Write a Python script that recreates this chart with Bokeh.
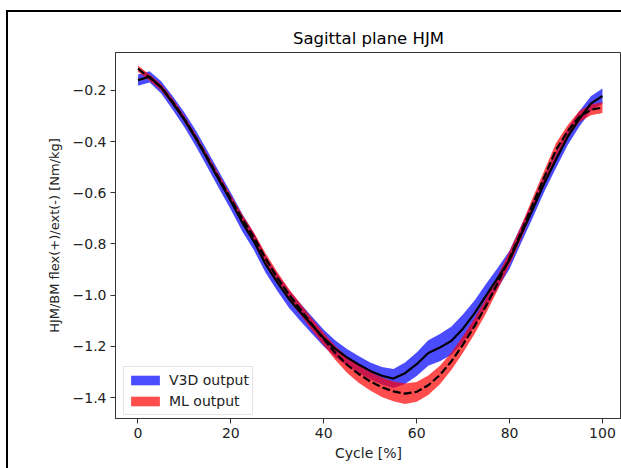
from bokeh.plotting import figure
from bokeh.models import (Range1d, FixedTicker, CustomJSTickFormatter, Legend, LegendItem,
                          ColumnDataSource)
from bokeh.embed import file_html
from bokeh.resources import INLINE

cycle = [0, 2.5, 5, 7.5, 10, 12.5, 15, 17.5, 20, 22.5, 25, 27.5, 30, 32.5, 35, 37.5,
         40, 42.5, 45, 47.5, 50, 52.5, 55, 57.5, 60, 62.5, 65, 67.5, 70, 72.5, 75,
         77.5, 80, 82.5, 85, 87.5, 90, 92.5, 95, 97.5, 100]

v3d_mean = [-0.160, -0.147, -0.188, -0.250, -0.315, -0.389, -0.470, -0.552, -0.633,
            -0.718, -0.792, -0.880, -0.950, -1.015, -1.068, -1.118, -1.168, -1.210,
            -1.243, -1.271, -1.296, -1.315, -1.326, -1.305, -1.270, -1.226, -1.205,
            -1.178, -1.130, -1.070, -1.000, -0.932, -0.862, -0.762, -0.665, -0.562,
            -0.470, -0.382, -0.312, -0.252, -0.222]
v3d_sd = [0.022, 0.022, 0.024, 0.027, 0.029, 0.031, 0.032, 0.033, 0.033, 0.034,
          0.034, 0.034, 0.034, 0.034, 0.034, 0.034, 0.033, 0.033, 0.033, 0.033,
          0.033, 0.034, 0.037, 0.042, 0.046, 0.050, 0.053, 0.055, 0.055, 0.050,
          0.045, 0.040, 0.036, 0.034, 0.033, 0.033, 0.033, 0.032, 0.030, 0.029, 0.029]

ml_mean = [-0.115, -0.150, -0.188, -0.245, -0.312, -0.385, -0.465, -0.545, -0.625,
           -0.703, -0.775, -0.858, -0.932, -0.998, -1.056, -1.115, -1.172, -1.226,
           -1.272, -1.308, -1.337, -1.360, -1.376, -1.385, -1.378, -1.352, -1.312,
           -1.258, -1.192, -1.120, -1.040, -0.950, -0.855, -0.755, -0.645, -0.538,
           -0.432, -0.360, -0.303, -0.276, -0.267]
ml_sd = [0.012, 0.012, 0.012, 0.012, 0.012, 0.012, 0.013, 0.014, 0.015, 0.017,
         0.019, 0.021, 0.022, 0.022, 0.022, 0.023, 0.024, 0.027, 0.031, 0.034,
         0.036, 0.038, 0.039, 0.040, 0.039, 0.038, 0.036, 0.034, 0.032, 0.031,
         0.029, 0.028, 0.027, 0.026, 0.026, 0.026, 0.026, 0.024, 0.022, 0.021, 0.021]

x_ticks = [0, 20, 40, 60, 80, 100]
y_ticks = [-1.4, -1.2, -1.0, -0.8, -0.6, -0.4, -0.2]

src = ColumnDataSource(dict(
    x=cycle,
    v_lo=[m - s for m, s in zip(v3d_mean, v3d_sd)],
    v_hi=[m + s for m, s in zip(v3d_mean, v3d_sd)],
    m_lo=[m - s for m, s in zip(ml_mean, ml_sd)],
    m_hi=[m + s for m, s in zip(ml_mean, ml_sd)],
    v_mean=v3d_mean,
    m_mean=ml_mean,
))

FONT = "DejaVu Sans"

p = figure(width=621, height=468, output_backend="svg", toolbar_location=None,
           x_range=Range1d(-4.84, 104.1), y_range=Range1d(-1.482, -0.052),
           min_border_left=115, min_border_right=0, min_border_top=52,
           min_border_bottom=50)

# transparent canvas; the page-frame lines (left and top) come from the host background
p.border_fill_alpha = 0.0
p.background_fill_alpha = 0.0
p.styles = {
    "background": ("linear-gradient(#000, #000) 6px 10px / 2px 458px no-repeat, "
                   "linear-gradient(#000, #000) 6px 10px / 615px 2px no-repeat, #ffffff"),
}

p.title.text = "Sagittal plane HJM"
p.title.align = "center"
p.title.text_font = FONT
p.title.text_font_size = "16.5px"
p.title.text_font_style = "normal"
p.title.text_color = "#000000"

p.grid.visible = False
p.outline_line_color = "#333333"
p.outline_line_width = 1

for ax in (p.xaxis[0], p.yaxis[0]):
    ax.major_label_text_font = FONT
    ax.major_label_text_font_size = "14px"
    ax.major_label_text_color = "#222222"
    ax.axis_label_text_font = FONT
    ax.axis_label_text_font_style = "normal"
    ax.axis_label_text_color = "#222222"
    ax.minor_tick_line_color = None
    ax.major_tick_in = 0
    ax.major_tick_out = 5
    ax.major_tick_line_color = "#333333"
    ax.axis_line_color = "#333333"

p.xaxis.ticker = FixedTicker(ticks=x_ticks)
p.xaxis.axis_label = "Cycle [%]"
p.xaxis.axis_label_text_font_size = "14px"
p.xaxis.axis_label_standoff = 4
p.xaxis.major_label_standoff = 4

p.yaxis.ticker = FixedTicker(ticks=y_ticks)
p.yaxis.formatter = CustomJSTickFormatter(code="return tick.toFixed(1).replace('-', '\u2212');")
p.yaxis.axis_label = "HJM/BM flex(+)/ext(-) [Nm/kg]"
p.yaxis.axis_label_text_font_size = "13px"
p.yaxis.axis_label_standoff = 8
p.yaxis.major_label_standoff = 4

blue = p.varea(x="x", y1="v_lo", y2="v_hi", source=src, fill_color="blue", fill_alpha=0.7)
red = p.varea(x="x", y1="m_lo", y2="m_hi", source=src, fill_color="red", fill_alpha=0.7)
p.line(x="x", y="v_mean", source=src, line_color="black", line_width=2.2)
p.line(x="x", y="m_mean", source=src, line_color="black", line_width=2.2, line_dash="8 3")

legend = Legend(items=[LegendItem(label="V3D output", renderers=[blue]),
                       LegendItem(label="ML output", renderers=[red])],
                location=(8, 3))
legend.label_text_font = FONT
legend.label_text_font_size = "14px"
legend.label_text_color = "#222222"
legend.glyph_width = 36
legend.glyph_height = 12
legend.label_height = 20
legend.spacing = 1
legend.padding = 3
legend.label_standoff = 6
legend.border_line_color = "#cccccc"
legend.border_line_width = 1
legend.background_fill_color = "white"
legend.background_fill_alpha = 0.8
p.add_layout(legend)

open("out.html", "w").write(file_html(p, INLINE))
